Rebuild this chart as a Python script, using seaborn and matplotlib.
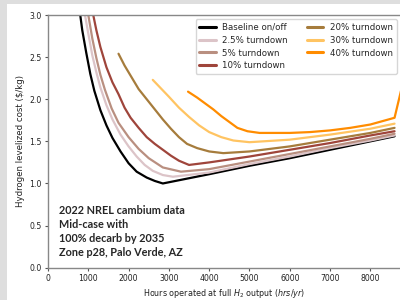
import matplotlib
matplotlib.use("Agg")
import matplotlib.pyplot as plt
from matplotlib.patches import Rectangle
import numpy as np
import pandas as pd
import seaborn as sns

# hours operated at full H2 output (hrs/yr) and levelized cost ($/kg), per case
baseline_hours = [750, 850, 950, 1050, 1150, 1300, 1450, 1600, 1800, 2000, 2200, 2450, 2650, 2850,
                  4000, 5000, 6000, 7000, 8000, 8600]
baseline_cost = [3.18, 2.82, 2.55, 2.30, 2.10, 1.87, 1.69, 1.54, 1.38, 1.24, 1.14, 1.07, 1.03, 1.00,
                 1.11, 1.21, 1.30, 1.40, 1.50, 1.56]

td2_5_hours = [880, 1000, 1100, 1200, 1300, 1450, 1600, 1800, 2000, 2200, 2400, 2600, 2850, 3100,
               4000, 5000, 6000, 7000, 8000, 8600]
td2_5_cost = [3.10, 2.78, 2.52, 2.32, 2.14, 1.93, 1.76, 1.58, 1.44, 1.32, 1.22, 1.15, 1.10, 1.08,
              1.13, 1.23, 1.32, 1.42, 1.51, 1.57]

td5_hours = [960, 1000, 1100, 1200, 1300, 1414, 1580, 1750, 2000, 2250, 2500, 2850, 3300,
             4000, 5000, 6000, 7000, 8000, 8600]
td5_cost = [3.12, 3.00, 2.72, 2.49, 2.29, 2.11, 1.89, 1.72, 1.55, 1.41, 1.30, 1.19, 1.14,
            1.17, 1.26, 1.35, 1.44, 1.53, 1.59]

td10_hours = [1080, 1200, 1300, 1450, 1600, 1750, 1900, 2050, 2250, 2450, 2650, 2850, 3050, 3250, 3500,
              4000, 5000, 6000, 7000, 8000, 8600]
td10_cost = [3.10, 2.82, 2.62, 2.38, 2.20, 2.06, 1.90, 1.78, 1.66, 1.55, 1.47, 1.40, 1.33, 1.27, 1.22,
             1.25, 1.32, 1.40, 1.48, 1.57, 1.62]

td20_hours = [1750, 1900, 2050, 2250, 2450, 2650, 2850, 3050, 3250, 3450, 3700, 4000, 4350,
              5000, 6000, 7000, 8000, 8600]
td20_cost = [2.54, 2.40, 2.28, 2.12, 2.00, 1.88, 1.76, 1.65, 1.55, 1.47, 1.42, 1.38, 1.36,
             1.38, 1.44, 1.52, 1.60, 1.66]

td30_hours = [2600, 2800, 3000, 3250, 3500, 3750, 4000, 4300, 4600, 5000, 6000, 7000, 8000, 8600]
td30_cost = [2.23, 2.13, 2.03, 1.90, 1.79, 1.69, 1.61, 1.55, 1.51, 1.49, 1.52, 1.58, 1.65, 1.71]

td40_hours = [3475, 3700, 3900, 4100, 4300, 4500, 4700, 4950, 5250, 6000, 6500, 7000, 7500, 8000, 8600, 8760]
td40_cost = [2.09, 2.02, 1.95, 1.88, 1.80, 1.73, 1.66, 1.62, 1.60, 1.60, 1.61, 1.63, 1.66, 1.70, 1.78, 2.10]

case_labels = ["Baseline on/off", "2.5% turndown", "5% turndown", "10% turndown",
               "20% turndown", "30% turndown", "40% turndown"]
case_colors = ["#000000", "#dcc4c8", "#b98f80", "#9f453b", "#a67c3c", "#ffc462", "#ff8c00"]

series = [
    (baseline_hours, baseline_cost),
    (td2_5_hours, td2_5_cost),
    (td5_hours, td5_cost),
    (td10_hours, td10_cost),
    (td20_hours, td20_cost),
    (td30_hours, td30_cost),
    (td40_hours, td40_cost),
]

frames = []
for label, (h, c) in zip(case_labels, series):
    frames.append(pd.DataFrame({"hours": h, "cost": c, "case": label}))
df = pd.concat(frames, ignore_index=True)

sns.set_style("ticks")
plt.rcParams["font.family"] = ["DejaVu Sans"]

fig = plt.figure(figsize=(4, 3), dpi=100, facecolor="#dedede")
fig.patches.append(Rectangle((7 / 400, 0), 1, 1 - 4 / 300, transform=fig.transFigure,
                             facecolor="white", edgecolor="none", zorder=-10))
ax = fig.add_axes([48 / 400, 32.3 / 300, 353 / 400, 252.7 / 300])

sns.lineplot(data=df, x="hours", y="cost", hue="case", hue_order=case_labels,
             palette=dict(zip(case_labels, case_colors)), estimator=None, sort=False,
             linewidth=1.6, ax=ax)

ax.set_xlim(0, 8760)
ax.set_ylim(0, 3.0)
ax.set_xticks(np.arange(0, 9000, 1000))
ax.set_yticks(np.arange(0, 3.01, 0.5))
ax.set_xlabel("Hours operated at full $H_2$ output ($hrs/yr$)", fontsize=5.8, color="#222222", labelpad=3)
ax.set_ylabel("Hydrogen levelized cost ($/kg)", fontsize=6.2, color="#222222", labelpad=3)
ax.tick_params(labelsize=5.6, length=2.5, width=0.8, color="#555555", labelcolor="#222222", pad=2)
for s in ax.spines.values():
    s.set_color("#888888")
    s.set_linewidth(1.0)

handles, labels = ax.get_legend_handles_labels()
leg = ax.legend(handles, labels, ncol=2, loc="upper right", fontsize=6.2, frameon=True,
                handlelength=1.9, labelspacing=0.45, columnspacing=2.2,
                borderaxespad=0.5, handletextpad=0.8)
for line in leg.get_lines():
    line.set_linewidth(2.2)

ax.text(0.03, 0.25, "2022 NREL cambium data\nMid-case with\n100% decarb by 2035\nZone p28, Palo Verde, AZ",
        transform=ax.transAxes, fontsize=7.8, fontweight="bold", family="Lato",
        va="top", ha="left", linespacing=1.35)

fig.savefig("out.png", dpi=100, facecolor=fig.get_facecolor())
